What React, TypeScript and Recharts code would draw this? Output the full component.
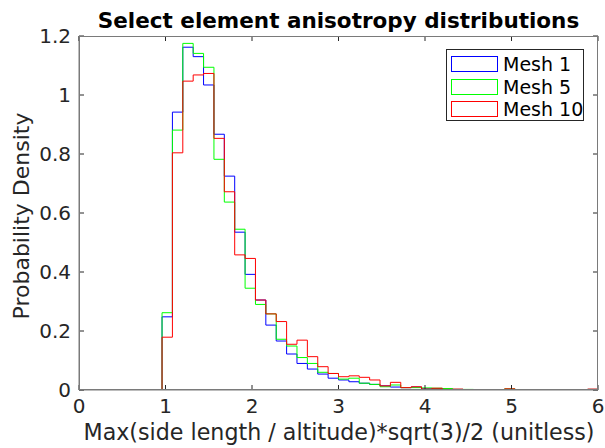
import React from "react";
import { Line, LineChart, XAxis, YAxis } from "recharts";

// left edges of the 0.12-wide bins, plus the closing edge at 6
const binEdges = [
	0, 0.12, 0.24, 0.36, 0.48, 0.6, 0.72, 0.84, 0.96, 1.08, 1.2, 1.32, 1.44,
	1.56, 1.68, 1.8, 1.92, 2.04, 2.16, 2.28, 2.4, 2.52, 2.64, 2.76, 2.88, 3,
	3.12, 3.24, 3.36, 3.48, 3.6, 3.72, 3.84, 3.96, 4.08, 4.2, 4.32, 4.44, 4.56,
	4.68, 4.8, 4.92, 5.04, 5.16, 5.28, 5.4, 5.52, 5.64, 5.76, 5.88, 6,
];

const mesh1 = [
	0, 0, 0, 0, 0, 0, 0, 0, 0.248, 0.942, 1.162, 1.13, 1.034, 0.867, 0.725,
	0.535, 0.392, 0.305, 0.22, 0.166, 0.122, 0.09, 0.071, 0.054, 0.04, 0.034,
	0.028, 0.023, 0.019, 0.014, 0.01, 0.008, 0.01, 0.004, 0.005, 0.003, 0.002,
	0.001, 0.001, 0.001, 0.001, 0.002, 0.001, 0.001, 0, 0.001, 0, 0, 0, 0.002,
];

const mesh5 = [
	0, 0, 0, 0, 0, 0, 0, 0, 0.262, 0.881, 1.175, 1.141, 1.094, 0.782, 0.637,
	0.545, 0.345, 0.29, 0.258, 0.172, 0.149, 0.11, 0.09, 0.06, 0.056, 0.037,
	0.04, 0.023, 0.019, 0.011, 0.017, 0.008, 0.008, 0.007, 0.006, 0.005, 0.002,
	0.002, 0.001, 0.001, 0.001, 0.004, 0.001, 0, 0.001, 0, 0, 0, 0, 0.002,
];

const mesh10 = [
	0, 0, 0, 0, 0, 0, 0, 0, 0.179, 0.804, 1.047, 1.068, 1.073, 0.853, 0.672,
	0.458, 0.446, 0.305, 0.258, 0.232, 0.155, 0.169, 0.113, 0.079, 0.056,
	0.045, 0.048, 0.043, 0.034, 0.014, 0.026, 0.008, 0.011, 0.003, 0.006,
	0.002, 0.003, 0.001, 0.001, 0, 0.001, 0.004, 0.001, 0, 0, 0.001, 0, 0, 0,
	0.003,
];

const xTicks = [0, 1, 2, 3, 4, 5, 6];
const yTicks = [0, 0.2, 0.4, 0.6, 0.8, 1, 1.2];

const series = [
	{ key: "mesh1", name: "Mesh 1", color: "#0000ff" },
	{ key: "mesh5", name: "Mesh 5", color: "#00ff00" },
	{ key: "mesh10", name: "Mesh 10", color: "#ff0000" },
];

const data = binEdges.map((x, i) => ({
	x,
	mesh1: mesh1[i] ?? 0,
	mesh5: mesh5[i] ?? 0,
	mesh10: mesh10[i] ?? 0,
}));

const W = 605;
const H = 448;
const MARGIN = { top: 36, right: 7, bottom: 0, left: 0 };
const Y_AXIS_W = 79;
const X_AXIS_H = 58;
// plot box edges, from the layout above
const LEFT = MARGIN.left + Y_AXIS_W;
const RIGHT = W - MARGIN.right;
const TOP = MARGIN.top;
const BOTTOM = H - MARGIN.bottom - X_AXIS_H;
const TICK = 5;

const FONT = "'DejaVu Sans', sans-serif";
const AXIS = "#262626";
const BOX = "#7a7a7a";

// bottom tick label + matching inward tick on the top side
const XTick = ({ x, y, payload }: any) => (
	<g>
		<line x1={x} x2={x} y1={TOP} y2={TOP + TICK} stroke={AXIS} />
		<text
			x={x}
			y={y}
			dy="0.75em"
			textAnchor="middle"
			fill={AXIS}
			fontSize={20}
			fontFamily={FONT}
		>
			{payload.value}
		</text>
	</g>
);

// left tick label + matching inward tick on the right side
const YTick = ({ x, y, payload }: any) => (
	<g>
		<line x1={RIGHT - TICK} x2={RIGHT} y1={y} y2={y} stroke={AXIS} />
		<text
			x={x}
			y={y}
			dy="0.36em"
			textAnchor="end"
			fill={AXIS}
			fontSize={20}
			fontFamily={FONT}
		>
			{payload.value}
		</text>
	</g>
);

const LegendBox = () => (
	<div
		style={{
			position: "absolute",
			left: 446,
			top: 49,
			border: "1px solid #262626",
			background: "#fff",
			width: 138,
			height: 72,
			boxSizing: "border-box",
			padding: "3px 0 0 4px",
			fontFamily: FONT,
			fontSize: 19,
			lineHeight: "22px",
			color: "#000",
			whiteSpace: "nowrap",
		}}
	>
		{series.map((s) => (
			<div
				key={s.key}
				style={{ display: "flex", alignItems: "center", height: 22.5 }}
			>
				<div
					style={{
						width: 47,
						height: 16,
						flexShrink: 0,
						border: `1px solid ${s.color}`,
						marginRight: 5,
						boxSizing: "border-box",
					}}
				/>
				<span>{s.name}</span>
			</div>
		))}
	</div>
);

export default function App() {
	return (
		<div
			style={{
				position: "absolute",
				left: 0,
				top: 0,
				width: W,
				height: H,
				background: "#fff",
			}}
		>
			<LineChart width={W} height={H} data={data} margin={MARGIN}>
				<XAxis
					dataKey="x"
					type="number"
					domain={[0, 6]}
					ticks={xTicks}
					height={X_AXIS_H}
					tickSize={-TICK}
					tickMargin={13}
					tick={<XTick />}
					stroke={BOX}
					tickLine={{ stroke: AXIS }}
					allowDataOverflow
				/>
				<YAxis
					type="number"
					domain={[0, 1.2]}
					ticks={yTicks}
					width={Y_AXIS_W}
					tickSize={-TICK}
					tickMargin={13}
					tick={<YTick />}
					stroke={BOX}
					tickLine={{ stroke: AXIS }}
					allowDataOverflow
				/>
				{series.map((s) => (
					<Line
						key={s.key}
						dataKey={s.key}
						name={s.name}
						type="stepAfter"
						stroke={s.color}
						strokeWidth={1}
						dot={false}
						activeDot={false}
						isAnimationActive={false}
					/>
				))}
			</LineChart>
			<LegendBox />
			<svg
				width={W}
				height={H}
				style={{ position: "absolute", left: 0, top: 0, pointerEvents: "none" }}
			>
				{/* axes box around the plot area */}
				<rect
					x={LEFT + 0.5}
					y={TOP + 0.5}
					width={RIGHT - LEFT - 1}
					height={BOTTOM - TOP - 1}
					fill="none"
					stroke={BOX}
					strokeWidth={1}
				/>
				<text
					x={338.5}
					y={28}
					textAnchor="middle"
					fontFamily={FONT}
					fontWeight="bold"
					fontSize={21.5}
					fill="#000"
				>
					Select element anisotropy distributions
				</text>
				<text
					x={339}
					y={440}
					textAnchor="middle"
					fontFamily={FONT}
					fontSize={22.2}
					fill={AXIS}
				>
					Max(side length / altitude)*sqrt(3)/2 (unitless)
				</text>
				<text
					x={0}
					y={0}
					transform="translate(29 216) rotate(-90)"
					textAnchor="middle"
					fontFamily={FONT}
					fontSize={22}
					fill={AXIS}
				>
					Probability Density
				</text>
			</svg>
		</div>
	);
}
